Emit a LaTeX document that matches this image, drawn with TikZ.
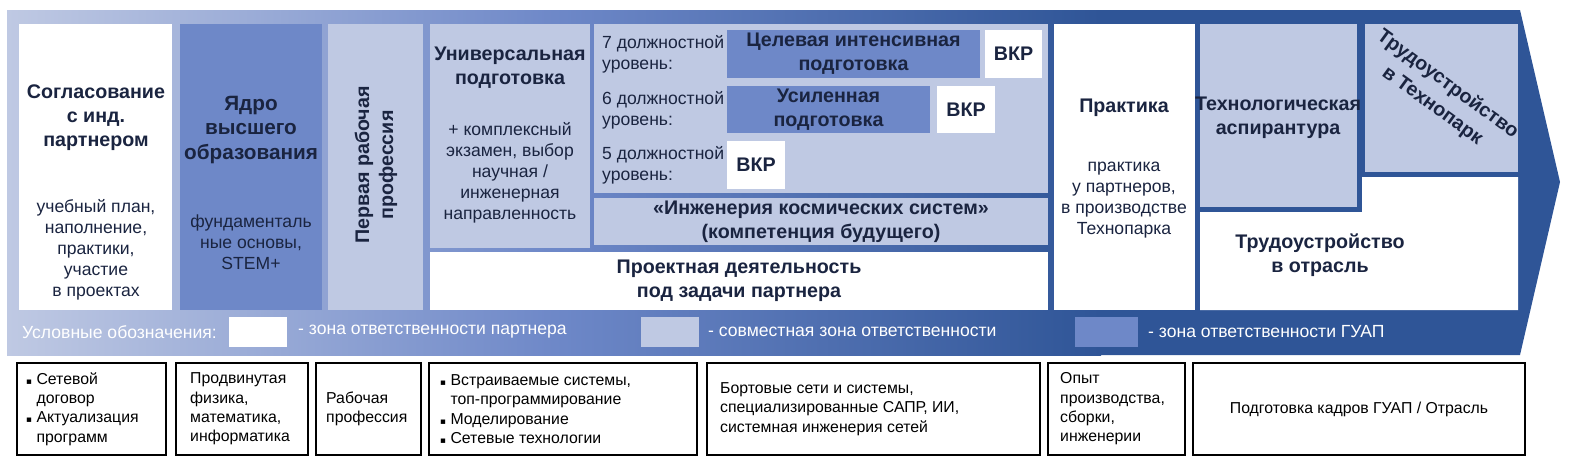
\documentclass[tikz,border=0pt]{standalone}
\usepackage{fontspec}
\setmainfont{Liberation Sans}
\newfontfamily\djv{DejaVu Sans}
\usetikzlibrary{fit,shadings}
\definecolor{navy}{HTML}{2F5597}
\definecolor{lite}{HTML}{BFC9E3}
\definecolor{dark}{HTML}{6E88C8}
\definecolor{ink}{HTML}{1A2440}
\begin{document}
\begin{tikzpicture}[x=0.02cm,y=-0.02cm,
 zone/.style={inner sep=0pt,draw=none},
 ttl/.style={font=\fontsize{11.2}{13.6}\selectfont\bfseries,text=ink,align=center},
 txt/.style={font=\fontsize{10}{11.9}\selectfont,text=ink,align=center},
 bot/.style={draw=black,line width=0.6pt,inner sep=0pt},
 btxt/.style={font=\fontsize{9}{11}\selectfont,text=black,align=left,anchor=west},
 leg/.style={font=\fontsize{10}{11}\selectfont,text=white,anchor=west}]
\useasboundingbox (0,0) rectangle (1581,464);
% arrow background
\shade[left color=lite,right color=navy,middle color=dark] (7,10) rectangle (1101,355);
\fill[navy] (1100,10) -- (1520,10) -- (1560,182) -- (1520,355) -- (1100,355) -- cycle;
% zones
\node[zone,fill=white,fit={(19,24)(172,310)}] (b1) {};
\node[zone,fill=dark,fit={(180,24)(322,310)}] (b2) {};
\node[zone,fill=lite,fit={(328,24)(423,310)}] (b3) {};
\node[zone,fill=lite,fit={(430,24)(590,248)}] (uni) {};
\node[zone,fill=lite,fit={(594,24)(1048,193)}] (lev) {};
\node[zone,fill=dark,fit={(727,30)(980,78)}] (l7) {};
\node[zone,fill=white,fit={(985,30)(1042,78)}] (v7) {};
\node[zone,fill=dark,fit={(727,86)(930,133)}] (l6) {};
\node[zone,fill=white,fit={(937,86)(995,133)}] (v6) {};
\node[zone,fill=white,fit={(727,141)(785,189)}] (v5) {};
\node[zone,fill=lite,fit={(594,198)(1048,245)}] (eng) {};
\node[zone,fill=white,fit={(430,252)(1048,310)}] (proj) {};
\node[zone,fill=white,fit={(1054,24)(1195,310)}] (prac) {};
\node[zone,fill=lite,fit={(1200,24)(1357,207)}] (asp) {};
\node[zone,fill=lite,fit={(1365,24)(1518,172)}] (tp) {};
\fill[white] (1200,212) -- (1362,212) -- (1362,177) -- (1518,177) -- (1518,310) -- (1200,310) -- cycle;
\coordinate (otr) at (1320,255);
% texts
\node[ttl] at (96,118) {Согласование\\с инд.\\партнером};
\node[txt] at (96,250) {учебный план,\\наполнение,\\практики,\\участие\\в проектах};
\node[ttl,font=\fontsize{11.8}{14}\selectfont\bfseries] at (251,130) {Ядро\\высшего\\образования};
\node[txt] at (251,242) {фундаменталь\\ные основы,\\STEM+};
\node[ttl,rotate=90] at (376,165) {Первая рабочая\\профессия};
\node[ttl] at (510,68) {Универсальная\\подготовка};
\node[txt] at (510,173) {+ комплексный\\экзамен, выбор\\научная /\\инженерная\\направленность};
\node[txt,align=left,anchor=west] at (596,54) {7 должностной\\уровень:};
\node[txt,align=left,anchor=west] at (596,110) {6 должностной\\уровень:};
\node[txt,align=left,anchor=west] at (596,165) {5 должностной\\уровень:};
\node[ttl] at (l7.center) {Целевая интенсивная\\подготовка};
\node[ttl] at (l6.center) {Усиленная\\подготовка};
\node[ttl] at (v7.center) {ВКР};
\node[ttl] at (v6.center) {ВКР};
\node[ttl] at (v5.center) {ВКР};
\node[ttl] at (eng.center) {«Инженерия космических систем»\\(компетенция будущего)};
\node[ttl] at (proj.center) {Проектная деятельность\\под задачи партнера};
\node[ttl] at (1124,108) {Практика};
\node[txt] at (1124,200) {практика\\у партнеров,\\в производстве\\Технопарка};
\node[ttl] at (1278,118) {Технологическая\\аспирантура};
\node[ttl,rotate=-36,font=\fontsize{11.2}{15}\selectfont\bfseries] at (1440,95) {Трудоустройство\\в Технопарк};
\node[ttl] at (otr) {Трудоустройство\\в отрасль};
% legend
\node[leg] at (16,332) {Условные обозначения:};
\node[zone,fill=white,fit={(229,317)(287,347)}] (lg1) {};
\node[leg] at (292,332) {- зона ответственности партнера};
\node[zone,fill=lite,fit={(641,317)(699,347)}] (lg2) {};
\node[leg] at (702,332) {- совместная зона ответственности};
\node[zone,fill=dark,fit={(1075,317)(1138,347)}] (lg3) {};
\node[leg] at (1142,332) {- зона ответственности ГУАП};
% bottom row
\node[bot,fit={(17,363)(166,455)}] (c1) {};
\node[bot,fit={(176,363)(308,455)}] (c2) {};
\node[bot,fit={(316,363)(421,455)}] (c3) {};
\node[bot,fit={(429,363)(697,455)}] (c4) {};
\node[bot,fit={(707,363)(1040,455)}] (c5) {};
\node[bot,fit={(1048,363)(1185,455)}] (c6) {};
\node[bot,fit={(1193,363)(1525,455)}] (c7) {};
\node[btxt] at (20,409) {{\djv\tiny▪} Сетевой\\\phantom{{\djv\tiny▪} }договор\\{\djv\tiny▪} Актуализация\\\phantom{{\djv\tiny▪} }программ};
\node[btxt] at (184,409) {Продвинутая\\физика,\\математика,\\информатика};
\node[btxt] at (320,409) {Рабочая\\профессия};
\node[btxt] at (434,409) {{\djv\tiny▪} Встраиваемые системы,\\\phantom{{\djv\tiny▪} }топ-программирование\\{\djv\tiny▪} Моделирование\\{\djv\tiny▪} Сетевые технологии};
\node[btxt] at (714,409) {Бортовые сети и системы,\\специализированные САПР, ИИ,\\системная инженерия сетей};
\node[btxt] at (1054,409) {Опыт\\производства,\\сборки,\\инженерии};
\node[btxt,anchor=center,align=center] at (c7.center) {Подготовка кадров ГУАП / Отрасль};
\end{tikzpicture}
\end{document}
